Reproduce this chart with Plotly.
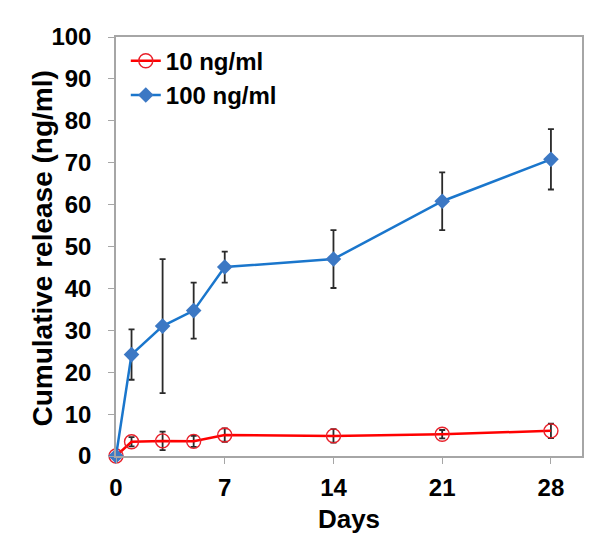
import plotly.graph_objects as go

days = [0, 1, 3, 5, 7, 14, 21, 28]
low_name = "10 ng/ml"
high_name = "100 ng/ml"
low_vals = [0.0, 3.4, 3.6, 3.5, 5.0, 4.8, 5.2, 6.0]
low_err = [0.0, 1.1, 2.2, 1.3, 1.6, 1.6, 1.0, 1.7]
high_vals = [0.0, 24.2, 31.0, 34.7, 45.1, 47.0, 60.8, 70.8]
high_err = [0.0, 6.0, 16.0, 6.7, 3.7, 6.9, 6.9, 7.2]
x_ticks = [0, 7, 14, 21, 28]
y_ticks = [0, 10, 20, 30, 40, 50, 60, 70, 80, 90, 100]
x_title = "Days"
y_title = "Cumulative release (ng/ml)"

FONT = "Liberation Sans, Arial, sans-serif"

fig = go.Figure()
fig.add_trace(go.Scatter(
    x=days, y=low_vals, name=low_name, mode="lines+markers", cliponaxis=False,
    line=dict(color="#ff0000", width=2.5),
    marker=dict(symbol="circle-open", size=14, color="#e8202a", line=dict(width=1.4)),
    error_y=dict(type="data", array=low_err, color="#2a2a2a", thickness=1.8, width=3),
))
fig.add_trace(go.Scatter(
    x=days, y=high_vals, name=high_name, mode="lines+markers", cliponaxis=False,
    line=dict(color="#1a76cc", width=2.5),
    marker=dict(symbol="diamond", size=12, color="#3c78c4"),
    error_y=dict(type="data", array=high_err, color="#2a2a2a", thickness=1.8, width=3),
))

axis_common = dict(
    showline=True, mirror=True, linecolor="#a6a6a6", linewidth=1.5,
    showgrid=False, zeroline=False, ticks="outside", ticklen=6,
    tickcolor="#a6a6a6", tickwidth=1.2, automargin=False,
    tickfont=dict(family=FONT, size=24, color="black", weight="bold"),
)

# page body has an 8px default margin, so the figure is sized/offset accordingly
fig.update_layout(
    width=595, height=538,
    margin=dict(l=108, r=21, t=29, b=90),
    paper_bgcolor="white", plot_bgcolor="white",
    xaxis=dict(range=[0, 30], tickvals=x_ticks, ticktext=[str(t) for t in x_ticks],
               ticklabelstandoff=3,
               title=dict(text=x_title, font=dict(family=FONT, size=26, color="black", weight="bold"), standoff=10),
               **axis_common),
    yaxis=dict(range=[0, 100], tickvals=y_ticks, ticktext=[str(t) for t in y_ticks],
               ticklabelstandoff=12,
               **axis_common),
    legend=dict(x=0.021, y=0.996, xanchor="left", yanchor="top",
                bgcolor="rgba(0,0,0,0)", font=dict(family=FONT, size=24, color="black", weight="bold"),
                itemwidth=30, tracegroupgap=0),
    showlegend=True,
    annotations=[dict(text=y_title, textangle=-90, xref="paper", yref="paper",
                      x=0, y=0.5, xanchor="center", yanchor="middle",
                      xshift=-74, yshift=-2, showarrow=False,
                      font=dict(family=FONT, size=28, color="black", weight="bold"))],
)

fig.write_html("out.html")
